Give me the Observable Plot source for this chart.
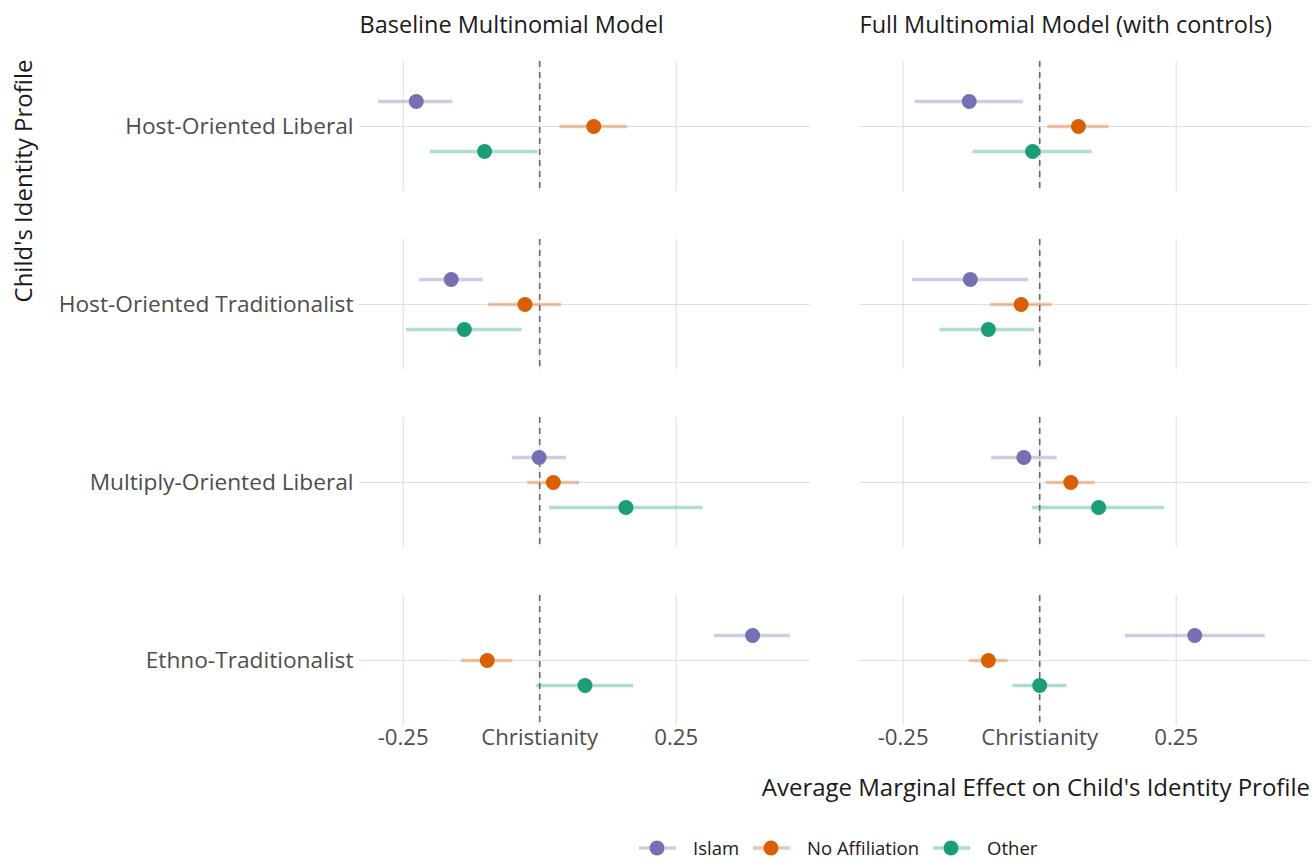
<!DOCTYPE html>
<html>
<head>
<meta charset="utf-8">
<script src="https://cdn.jsdelivr.net/npm/d3@7"></script>
<script src="https://cdn.jsdelivr.net/npm/@observablehq/plot@0.6"></script>
<style>
  html, body { margin: 0; padding: 0; background: #fff; }
  #wrap { position: relative; width: 1313px; height: 862px; font-family: "Open Sans", Lato, sans-serif; }
  #chart svg { display: block; }
  .ytitle { position: absolute; left: 23px; top: 181px; transform: translate(-50%, -50%) rotate(-90deg); white-space: nowrap; font-size: 24px; line-height: 26px; color: #1a1a1a; }
  .xtitle { position: absolute; right: 3px; top: 787px; transform: translateY(-50%); white-space: nowrap; font-size: 24px; line-height: 26px; color: #1a1a1a; }
  #legend { position: absolute; top: 839px; left: 639px; height: 18px; display: flex; align-items: center; white-space: nowrap; font-size: 18.5px; line-height: 18px; color: #1a1a1a; }
  #legend .item { display: flex; align-items: center; margin-right: 14px; height: 18px; }
  #legend .item:last-child { margin-right: 0; }
  #legend svg { margin-right: 17px; display: block; }
</style>
</head>
<body>
<div id="wrap">
  <div id="chart"></div>
  <div class="ytitle">Child's Identity Profile</div>
  <div class="xtitle">Average Marginal Effect on Child's Identity Profile</div>
  <div id="legend"></div>
</div>
<script>
// ---- data ----
const models = ["Baseline Multinomial Model", "Full Multinomial Model (with controls)"];
const profiles = ["Host-Oriented Liberal", "Host-Oriented Traditionalist", "Multiply-Oriented Liberal", "Ethno-Traditionalist"];
const religions = ["Islam", "No Affiliation", "Other"];
const religionColors = ["#7570b3", "#d95f02", "#1b9e77"];
const xTicks = [-0.25, 0, 0.25];
const xTickLabels = ["-0.25", "Christianity", "0.25"];

// order: profile-major, religion-minor (Islam, No Affiliation, Other)
const baselineEstimate = [-0.226, 0.099, -0.101,  -0.162, -0.027, -0.138,  -0.001, 0.025, 0.158,  0.390, -0.096, 0.083];
const baselineLower    = [-0.295, 0.037, -0.200,  -0.220, -0.094, -0.244,  -0.050, -0.022, 0.018,  0.320, -0.143, -0.006];
const baselineUpper    = [-0.159, 0.161, -0.003,  -0.103, 0.040, -0.032,   0.049, 0.073, 0.299,   0.459, -0.049, 0.172];

const fullEstimate = [-0.129, 0.071, -0.013,  -0.127, -0.034, -0.094,  -0.029, 0.057, 0.108,  0.284, -0.094, 0.000];
const fullLower    = [-0.228, 0.015, -0.122,  -0.233, -0.090, -0.183,  -0.088, 0.012, -0.013, 0.157, -0.129, -0.049];
const fullUpper    = [-0.030, 0.127, 0.096,   -0.020, 0.023, -0.009,   0.032, 0.102, 0.229,   0.413, -0.058, 0.050];

// ---- table ----
const rows = [];
[[models[0], baselineEstimate, baselineLower, baselineUpper],
 [models[1], fullEstimate, fullLower, fullUpper]].forEach(([model, est, lo, hi]) => {
  profiles.forEach((profile, i) => {
    religions.forEach((religion, j) => {
      const k = i * religions.length + j;
      rows.push({model, profile, religion, estimate: est[k], lower: lo[k], upper: hi[k]});
    });
  });
});

const FONT = "'Open Sans', Lato, sans-serif";

const chart = Plot.plot({
  width: 1313,
  height: 800,
  marginLeft: 359,
  marginRight: 3,
  marginTop: 60,
  marginBottom: 74,
  style: {fontFamily: FONT, fontSize: "22px", background: "#fff", overflow: "visible"},
  x: {domain: [-0.33, 0.496]},
  y: {type: "point", domain: religions, padding: 1.569, axis: null},
  fx: {domain: models, paddingInner: 0.098, paddingOuter: 0},
  fy: {domain: profiles, paddingInner: 0.2724, paddingOuter: 0},
  color: {domain: religions, range: religionColors},
  marks: [
    Plot.gridX(xTicks, {stroke: "#e0e0e0", strokeOpacity: 1, strokeWidth: 1.1}),
    Plot.gridY(["No Affiliation"], {stroke: "#e0e0e0", strokeOpacity: 1, strokeWidth: 1.1}),
    Plot.ruleX([0], {stroke: "#666", strokeDasharray: "6,5", strokeWidth: 1.6}),
    Plot.ruleY(rows, {fx: "model", fy: "profile", y: "religion", x1: "lower", x2: "upper",
      stroke: "religion", strokeOpacity: 0.35, strokeWidth: 3.5}),
    Plot.dot(rows, {fx: "model", fy: "profile", y: "religion", x: "estimate",
      fill: "religion", r: 7.5}),
    Plot.axisX(xTicks, {anchor: "bottom", tickSize: 0, tickPadding: 4, label: null,
      tickFormat: d => xTickLabels[xTicks.indexOf(d)], fill: "#4d4d4d", fontSize: 22.2}),
    Plot.axisFx({anchor: "top", tickSize: 0, tickPadding: 29, label: null,
      textAnchor: "start", dx: -225.5, fill: "#1a1a1a", fontSize: 23.5}),
    Plot.axisFy({anchor: "left", tickSize: 0, tickPadding: 6, label: null,
      fill: "#4d4d4d", fontSize: 22.7})
  ]
});
document.getElementById("chart").appendChild(chart);

// ---- legend ----
const legend = d3.select("#legend");
religions.forEach((r, i) => {
  const item = legend.append("div").attr("class", "item");
  const svg = item.append("svg").attr("width", 37).attr("height", 18);
  svg.append("line").attr("x1", 0).attr("x2", 37).attr("y1", 9).attr("y2", 9)
    .attr("stroke", religionColors[i]).attr("stroke-opacity", 0.35).attr("stroke-width", 3.5);
  svg.append("circle").attr("cx", 18).attr("cy", 9).attr("r", 7.5).attr("fill", religionColors[i]);
  item.append("span").text(r);
});
</script>
</body>
</html>
